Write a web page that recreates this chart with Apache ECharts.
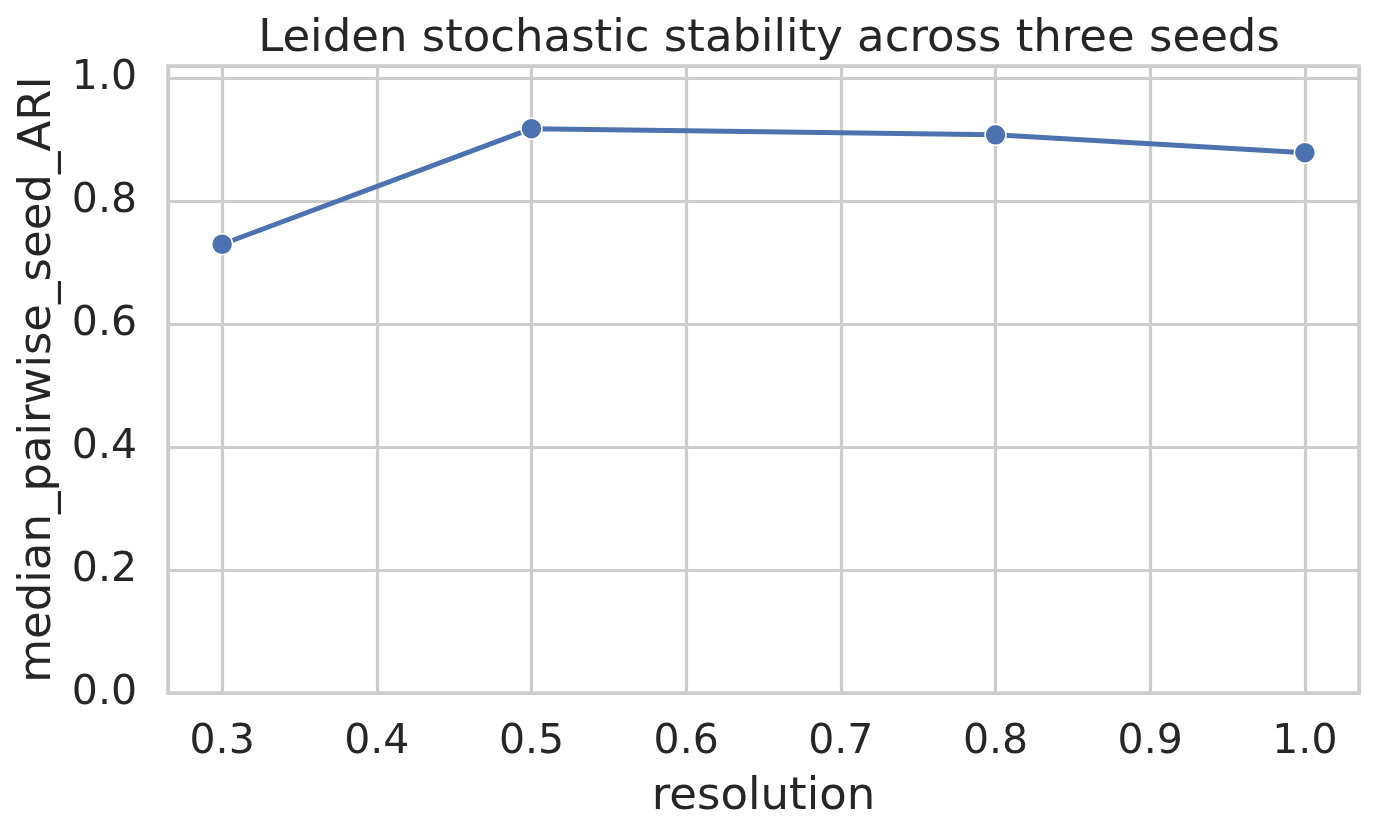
<!DOCTYPE html>
<html>
<head>
<meta charset="utf-8">
<script src="https://cdn.jsdelivr.net/npm/echarts@6/dist/echarts.min.js"></script>
<style>
html,body{margin:0;padding:0;background:#fff;}
#chart{width:1377px;height:838px;}
</style>
</head>
<body>
<div id="chart"></div>
<script>
const resolutions = [0.3, 0.5, 0.8, 1.0];
const medianAri = [0.73, 0.918, 0.908, 0.879];
const titleText = 'Leiden stochastic stability across three seeds';
const xName = 'resolution';
const yName = 'median_pairwise_seed_ARI';

const FONT = 'DejaVu Sans';
const TXT = '#262626';
const GRID = '#cccccc';
const BLUE = '#4c72b0';

const chart = echarts.init(document.getElementById('chart'), null, {renderer: 'canvas'});
chart.setOption({
  backgroundColor: '#ffffff',
  animation: false,
  title: {
    text: titleText,
    left: 764, textAlign: 'center', top: 12,
    textStyle: {fontFamily: FONT, fontSize: 45, fontWeight: 'normal', color: TXT}
  },
  grid: {
    left: 168, right: 18, top: 66, bottom: 145,
    show: true, borderColor: GRID, borderWidth: 3.5, backgroundColor: 'transparent'
  },
  xAxis: {
    type: 'value',
    min: 0.265, max: 1.035,
    minInterval: 0.1, maxInterval: 0.1, splitNumber: 7,
    name: xName, nameLocation: 'middle', nameGap: 82,
    nameTextStyle: {fontFamily: FONT, fontSize: 45, color: TXT},
    axisLine: {show: false},
    axisTick: {show: false},
    axisLabel: {
      fontFamily: FONT, fontSize: 41, color: TXT, margin: 29,
      showMinLabel: false, showMaxLabel: false,
      formatter: v => Math.abs(v * 10 - Math.round(v * 10)) < 1e-6 ? v.toFixed(1) : ''
    },
    splitLine: {show: true, lineStyle: {color: GRID, width: 3.2}}
  },
  yAxis: {
    type: 'value',
    min: 0, max: 1.02, interval: 0.2,
    name: yName, nameLocation: 'middle', nameGap: 104,
    nameTextStyle: {fontFamily: FONT, fontSize: 45, color: TXT},
    axisLine: {show: false},
    axisTick: {show: false},
    axisLabel: {
      fontFamily: FONT, fontSize: 41, color: TXT, margin: 31,
      showMaxLabel: false,
      formatter: v => Math.abs(v * 5 - Math.round(v * 5)) < 1e-6 ? v.toFixed(1) : ''
    },
    splitLine: {show: true, lineStyle: {color: GRID, width: 3.2}}
  },
  series: [{
    type: 'line',
    data: resolutions.map((r, i) => [r, medianAri[i]]),
    symbol: 'circle', symbolSize: 21,
    lineStyle: {color: BLUE, width: 5},
    itemStyle: {color: BLUE, borderColor: '#ffffff', borderWidth: 1.5},
    z: 5
  }]
});
</script>
</body>
</html>
